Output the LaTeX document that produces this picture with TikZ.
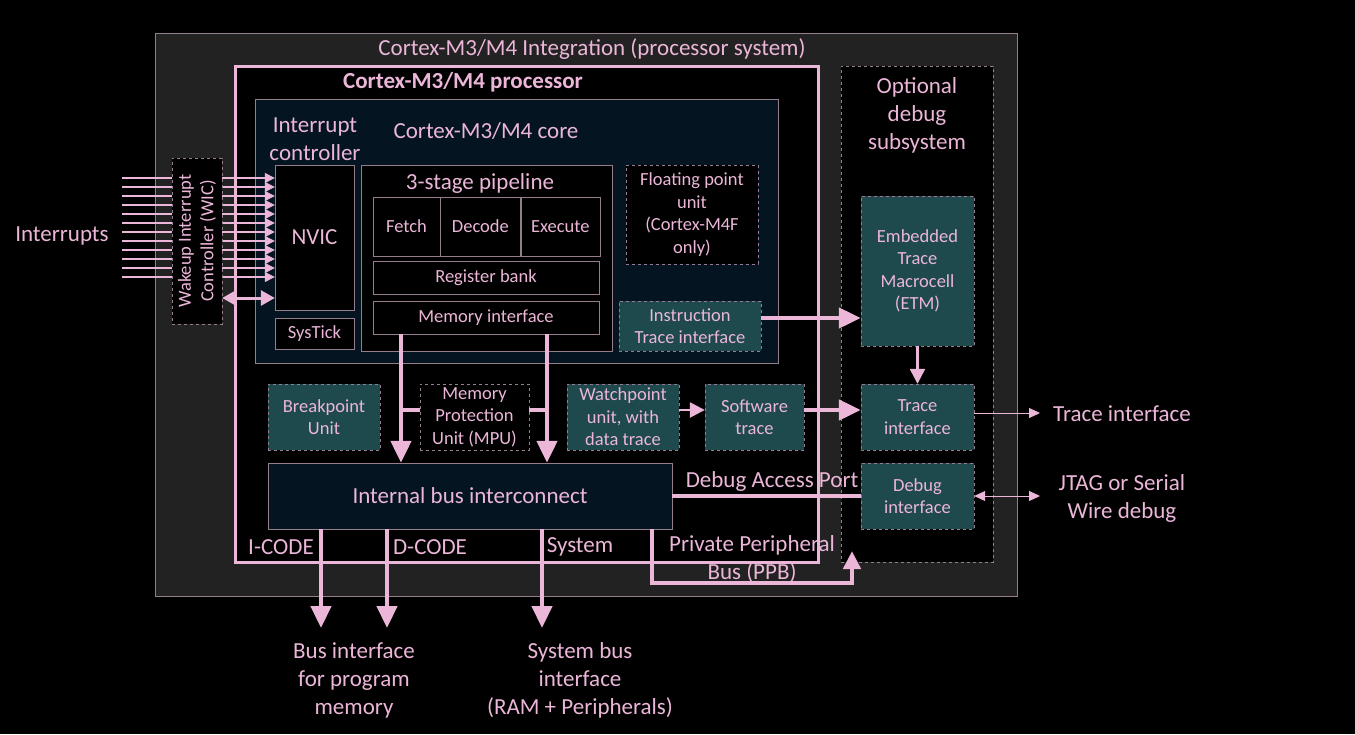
\documentclass[tikz,border=0pt]{standalone}
\usepackage{fontspec}
\setmainfont{Carlito}
\usetikzlibrary{positioning, arrows.meta, calc}
\definecolor{arm_pink}{RGB}{235,182,216}
\definecolor{arm_line}{RGB}{150,125,142}
\definecolor{arm_teal}{RGB}{30,74,77}
\definecolor{arm_navy}{RGB}{4,21,33}
\definecolor{arm_grey}{RGB}{34,34,34}
\newcommand{\bigtxt}{\fontsize{23}{28}\selectfont}
\newcommand{\smalltxt}{\fontsize{18.5}{22.5}\selectfont}
\tikzstyle{block} = [rectangle, draw=arm_line, fill=black, text=arm_pink, align=center, inner sep=0pt, font=\smalltxt]
\tikzstyle{optblock} = [block, dashed]
\tikzstyle{dbgblock} = [block, dashed, fill=arm_teal]
\tikzstyle{navyblock} = [block, fill=arm_navy]
\tikzstyle{lbl} = [text=arm_pink, align=center, inner sep=0pt, font=\bigtxt]
\tikzstyle{arrow} = [draw=arm_pink, line width=4.5pt, -{Triangle[length=22pt,width=20pt]}]
\tikzstyle{busline} = [draw=arm_pink, line width=4.5pt]
\tikzstyle{medarrow} = [draw=arm_pink, line width=2.5pt, -{Triangle[length=15pt,width=15pt]}]
\tikzstyle{dblarrow} = [draw=arm_pink, line width=3pt, {Triangle[length=14pt,width=15pt]}-{Triangle[length=14pt,width=15pt]}]
\tikzstyle{thinarrow} = [draw=arm_pink, line width=1pt, -{Triangle[length=11pt,width=10pt]}]
\tikzstyle{thindbl} = [draw=arm_pink, line width=1pt, {Triangle[length=11pt,width=10pt]}-{Triangle[length=11pt,width=10pt]}]
\tikzstyle{irq} = [draw=arm_pink, line width=1.2pt, -{Triangle[length=10pt,width=10pt]}]

\begin{document}
\begin{tikzpicture}[x=1pt, y=-1pt]
        \fill[black] (0,0) rectangle (1355,734);
        \useasboundingbox (0,0) rectangle (1355,734);
        \node (system) [block, fill=arm_grey, minimum width=862pt, minimum height=563pt] at (586,314.5) {};
        \node (systemlbl) [lbl] at (592,49) {Cortex-M3/M4 Integration (processor system)};
        \node (proc) [block, draw=arm_pink, line width=3pt, minimum width=583pt, minimum height=496pt] at (526.5,314) {};
        \node (proclbl) [lbl, font=\bigtxt\bfseries] at (463,82) {Cortex-M3/M4 processor};
        \node (dbgsub) [optblock, minimum width=152pt, minimum height=496pt] at (917,314) {};
        \node (dbgsublbl) [lbl] at (917,115) {Optional\\debug\\subsystem};
        \node (core) [navyblock, minimum width=523pt, minimum height=264pt] at (516.5,231) {};
        \node (corelbl) [lbl] at (486,131) {Cortex-M3/M4 core};
        \node (intclbl) [lbl] at (315,139) {Interrupt\\controller};
        \node (nvic) [block, font=\bigtxt, minimum width=79pt, minimum height=145pt] at (314.5,237.5) {NVIC};
        \node (systick) [block, minimum width=79pt, minimum height=31pt, below=8pt of nvic] {SysTick};
        \node (pipe) [block, minimum width=251pt, minimum height=186pt] at (486.5,258) {};
        \node (pipelbl) [lbl] at (480,183) {3-stage pipeline};
        \node (fetch) [block, minimum width=67pt, minimum height=59pt] at (406.5,226.5) {Fetch};
        \node (decode) [block, minimum width=80pt, minimum height=59pt, right=0pt of fetch] {Decode};
        \node (execute) [block, minimum width=79pt, minimum height=59pt, right=0pt of decode] {Execute};
        \node (regbank) [block, minimum width=226pt, minimum height=33pt] at (486,277.5) {Register bank};
        \node (memif) [block, minimum width=226pt, minimum height=33pt] at (486,317.5) {Memory interface};
        \node (fpu) [optblock, minimum width=132pt, minimum height=99pt] at (692,214.5) {Floating point\\unit\\(Cortex-M4F\\only)};
        \node (itrace) [dbgblock, minimum width=142pt, minimum height=50pt] at (690,326) {Instruction\\Trace interface};
        \node (bkpt) [dbgblock, minimum width=112pt, minimum height=66pt] at (324,417) {Breakpoint\\Unit};
        \node (mpu) [optblock, minimum width=109pt, minimum height=66pt] at (474.5,417) {Memory\\Protection\\Unit (MPU)};
        \node (watch) [dbgblock, minimum width=112pt, minimum height=66pt] at (623,417) {Watchpoint\\unit, with\\data trace};
        \node (swtrace) [dbgblock, minimum width=99pt, minimum height=66pt] at (754.5,417) {Software\\trace};
        \node (bus) [navyblock, font=\bigtxt, minimum width=404pt, minimum height=66pt] at (470,496) {Internal bus interconnect};
        \node (etm) [dbgblock, minimum width=113pt, minimum height=150pt] at (917.5,271) {Embedded\\Trace\\Macrocell\\(ETM)};
        \node (tracei) [dbgblock, minimum width=113pt, minimum height=66pt] at (917.5,417) {Trace\\interface};
        \node (dbgi) [dbgblock, minimum width=113pt, minimum height=66pt] at (917.5,496) {Debug\\interface};

        \node (irqlbl) [lbl] at (62,236) {Interrupts};
        \foreach \i in {0,...,11} {
            \coordinate (irq\i) at (122,{178+9*\i});
            \draw [irq] (irq\i) -- (irq\i -| nvic.west);
        }
        \node (wic) [optblock, minimum width=50pt, minimum height=166pt] at (197,241) {};
        \node (wictxt) [lbl, font=\smalltxt, rotate=90] at (wic.center) {Wakeup Interrupt\\Controller (WIC)};
        \coordinate (wake) at (222,298);
        \draw [dblarrow] (wake -| wic.east) -- (wake -| nvic.west);

        \coordinate (memL) at (401,0);
        \coordinate (memR) at (547,0);
        \draw [arrow] (memif.south -| memL) -- (bus.north -| memL);
        \draw [arrow] (memif.south -| memR) -- (bus.north -| memR);
        \draw [busline] ([yshift=7pt]mpu.west) -- ([yshift=7pt]mpu.west -| memL);
        \draw [busline] ([yshift=7pt]mpu.east) -- ([yshift=7pt]mpu.east -| memR);

        \draw [arrow] ([yshift=8pt]itrace.east) -- ([yshift=8pt]itrace.east -| etm.west);
        \draw [medarrow] (etm.south) -- (tracei.north);
        \draw [medarrow] ([yshift=7pt]watch.east) -- ([yshift=7pt]swtrace.west);
        \draw [arrow] ([yshift=7pt]swtrace.east) -- ([yshift=7pt]tracei.west);
        \draw [busline] (bus.east) -- (dbgi.west);
        \node (daplbl) [lbl] at (772,481) {Debug Access Port};

        \coordinate (icode) at (321,628);
        \coordinate (dcode) at (387,628);
        \coordinate (sysc) at (542,628);
        \draw [arrow] (bus.south -| icode) -- (icode);
        \draw [arrow] (bus.south -| dcode) -- (dcode);
        \draw [arrow] (bus.south -| sysc) -- (sysc);
        \node (icodelbl) [lbl] at (281,547) {I-CODE};
        \node (dcodelbl) [lbl] at (430,547) {D-CODE};
        \node (syslbl) [lbl] at (580,547) {System};

        \coordinate (ppb) at (652,583);
        \coordinate (ppbend) at (852,551);
        \draw [arrow, -{Triangle[length=18pt,width=17pt]}] (bus.south -| ppb) -- (ppb) -| (ppbend);
        \node (ppblbl) [lbl] at (752,559) {Private Peripheral\\Bus (PPB)};

        \coordinate (traceout) at (1040,413);
        \coordinate (jtag) at (1040,496);
        \draw [thinarrow] ([yshift=4pt]tracei.east) -- (traceout);
        \draw [thindbl] (dbgi.east) -- (jtag);
        \node (tracelbl) [lbl] at (1122,414) {Trace interface};
        \node (jtaglbl) [lbl] at (1122,498) {JTAG or Serial\\Wire debug};

        \node (progmem) [lbl] at (354,680) {Bus interface\\for program\\memory};
        \node (sysbus) [lbl] at (580,680) {System bus\\interface\\(RAM + Peripherals)};
    \end{tikzpicture}
\end{document}
